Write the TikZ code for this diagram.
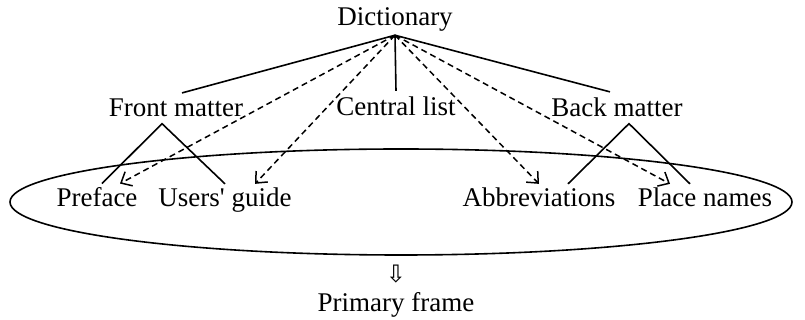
\documentclass[tikz,border=0pt]{standalone}
\usepackage{fontspec}
\setmainfont{Liberation Serif}
\newfontfamily\arrowsym{DejaVu Sans}
\usepackage{tikz}
\usetikzlibrary{arrows.meta,shapes.geometric}
\tikzset{
  lbl/.style     = {font=\fontsize{13.5}{15}\selectfont, inner sep=2pt},
  midlbl/.style  = {lbl, inner sep=3pt},
  treeln/.style  = {line width=0.8pt},
  linkarr/.style = {-{Straight Barb[length=4.5pt,width=8pt]}, line width=0.75pt,
                    dash pattern=on 3pt off 2pt}
}

\begin{document}
\begin{tikzpicture}[x=0.5pt,y=-0.5pt]
  \useasboundingbox (0,0) rectangle (805,320);
  % primary frame
  \node[draw,ellipse,treeln,minimum width=391pt,minimum height=53pt,inner sep=0pt]
       (frame) at (401,202) {};
  % tree
  \node[lbl,anchor=base,inner sep=1.5pt] (dict) at (395,26) {Dictionary};
  \node[midlbl,anchor=base] (front)   at (176,117) {Front matter};
  \node[midlbl,anchor=base] (central) at (396,116) {Central list};
  \node[midlbl,anchor=base] (back)    at (617,117) {Back matter};
  \node[lbl,anchor=base] (preface) at (97,207)  {Preface};
  \node[lbl,anchor=base] (users)   at (225,207) {Users\textquotesingle\ guide};
  \node[lbl,anchor=base] (abbrev)  at (539,207) {Abbreviations};
  \node[lbl,anchor=base] (place)   at (705,207) {Place names};
  \draw[treeln] ([xshift=3pt]front.north) -- (dict.south) -- ([xshift=-3.5pt]back.north);
  \draw[treeln] (dict.south) -- (central.north);
  \draw[treeln] ([xshift=2.5pt]preface.north) -- ([xshift=-7pt]front.south) -- (users.north);
  \draw[treeln] ([xshift=14.5pt]abbrev.north) -- ([xshift=6pt]back.south) -- ([xshift=-7.5pt]place.north);
  % cross links
  \draw[linkarr] (dict.south) -- ([xshift=11.5pt]preface.north);
  \draw[linkarr] (dict.south) -- ([xshift=15pt]users.north);
  \draw[linkarr] (dict.south) -- (abbrev.north);
  \draw[linkarr] (dict.south) -- ([xshift=-17.5pt]place.north);
  % result
  \node[font=\arrowsym\fontsize{12}{13}\selectfont,inner sep=0pt] (down) at (396,274) {⇩};
  \node[lbl,anchor=base] (primary) at (396,312) {Primary frame};
\end{tikzpicture}
\end{document}
